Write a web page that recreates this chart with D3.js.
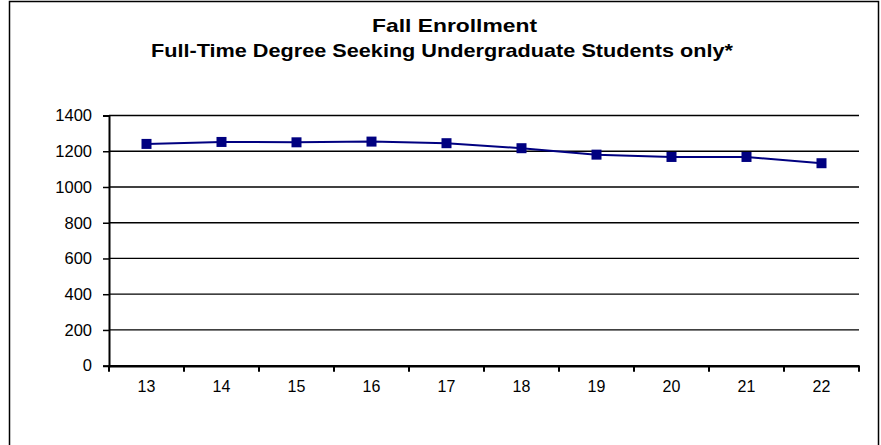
<!DOCTYPE html>
<html><head><meta charset="utf-8">
<script src="https://cdn.jsdelivr.net/npm/d3@7"></script>
<style>body{margin:0;background:#fff}svg{display:block;font-family:"Liberation Sans",Arial,sans-serif}</style>
</head><body><svg id="c" width="881" height="445"></svg>
<script>
const categories = ["13","14","15","16","17","18","19","20","21","22"];
const enrollment = [1241,1252,1250,1254,1245,1217,1181,1168,1168,1133];
const yTicks = [0,200,400,600,800,1000,1200,1400];
const titleLines = ["Fall Enrollment","Full-Time Degree Seeking Undergraduate Students only*"];

const svg = d3.select("#c");
svg.append("rect").attr("x",9.5).attr("y",1.5).attr("width",869).attr("height",470)
  .attr("fill","#fff").attr("stroke","#000").attr("stroke-width",1.5);

const L=109, R=859, T=115.5, B=365.7;
const x = d3.scaleBand().domain(categories).range([L,R]);
const y = d3.scaleLinear().domain([0,1400]).range([B,T]);

// gridlines
svg.append("g").selectAll("line").data(yTicks.filter(d=>d>0)).join("line")
  .attr("x1",L).attr("x2",R).attr("y1",d=>y(d)).attr("y2",d=>y(d))
  .attr("stroke","#000").attr("stroke-width",1.3);

// y axis
const ya = svg.append("g").attr("transform",`translate(${L},0)`)
  .call(d3.axisLeft(y).tickValues(yTicks).tickSize(6).tickPadding(11).tickFormat(d3.format("d")));
ya.select(".domain").attr("stroke-width",2);
ya.selectAll(".tick line").attr("stroke-width",1.5);
ya.selectAll("text").attr("font-size",16.5).attr("fill","#000").attr("font-family","Liberation Sans, Arial, sans-serif");

// x axis
const xa = svg.append("g").attr("transform",`translate(0,${B})`)
  .call(d3.axisBottom(x).tickSize(0).tickPadding(15));
xa.select(".domain").attr("stroke-width",2.5);
xa.selectAll("text").attr("font-size",16).attr("fill","#000").attr("font-family","Liberation Sans, Arial, sans-serif");
// category boundary ticks
const bounds = categories.map(c=>x(c)).concat([R]);
svg.append("g").selectAll("line").data(bounds).join("line")
  .attr("x1",d=>d).attr("x2",d=>d).attr("y1",B).attr("y2",B+6)
  .attr("stroke","#000").attr("stroke-width",2);

// line
const cx = d=>x(d)+x.bandwidth()/2;
const line = d3.line().x((d,i)=>cx(categories[i])).y(d=>y(d));
svg.append("path").datum(enrollment).attr("d",line)
  .attr("fill","none").attr("stroke","#000080").attr("stroke-width",2);
svg.append("g").selectAll("rect").data(enrollment).join("rect")
  .attr("x",(d,i)=>cx(categories[i])-5).attr("y",d=>y(d)-5)
  .attr("width",10).attr("height",10).attr("fill","#000080");

// title
const tpos = [{x:372,y:32,w:165},{x:151,y:57,w:582}];
svg.append("g").selectAll("text").data(titleLines).join("text")
  .attr("x",(d,i)=>tpos[i].x).attr("y",(d,i)=>tpos[i].y)
  .attr("textLength",(d,i)=>tpos[i].w).attr("lengthAdjust","spacingAndGlyphs")
  .attr("font-size",19).attr("font-weight","bold").text(d=>d);
</script></body></html>
